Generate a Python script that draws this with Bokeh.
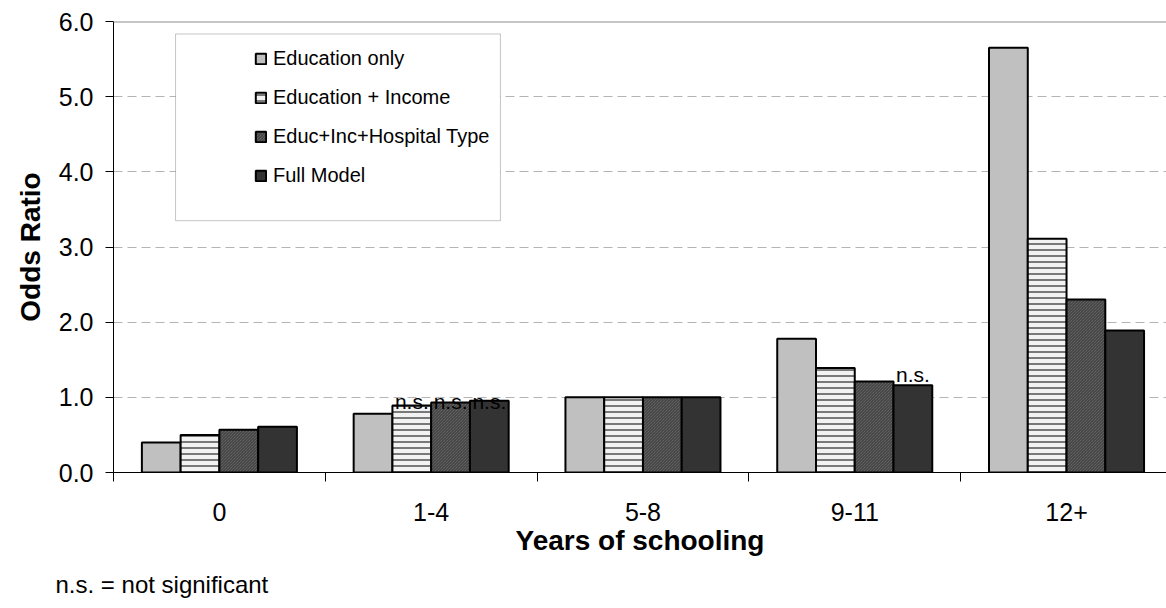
import numpy as np
from bokeh.plotting import figure
from bokeh.models import (Range1d, FixedTicker, PrintfTickFormatter, Legend, LegendItem,
                          Span, BoxAnnotation, Title, ColumnDataSource)
from bokeh.core.properties import value
from bokeh.embed import file_html
from bokeh.resources import INLINE

categories = ["0", "1-4", "5-8", "9-11", "12+"]
series = ["Education only", "Education + Income", "Educ+Inc+Hospital Type", "Full Model"]
edu_only = [0.40, 0.78, 1.00, 1.78, 5.65]
edu_income = [0.50, 0.89, 1.00, 1.39, 3.11]
edu_inc_hosp = [0.57, 0.93, 1.00, 1.21, 2.30]
full_model = [0.61, 0.955, 1.00, 1.16, 1.89]
values = [edu_only, edu_income, edu_inc_hosp, full_model]

# "n.s." annotations: (category, series index, label anchor value)
ns_cats = ["1-4", "1-4", "1-4", "9-11"]
ns_series = [1, 2, 3, 3]
ns_y = [0.945, 0.945, 0.945, 1.31]

y_ticks = [0, 1, 2, 3, 4, 5, 6]

FONT = "Liberation Sans"

p = figure(width=1166, height=608, output_backend="svg", toolbar_location=None,
           x_range=Range1d(0, 4.972), y_range=Range1d(0, 6),
           min_border_left=113, min_border_right=0, min_border_top=21, min_border_bottom=136)
p.outline_line_color = None
p.background_fill_color = "white"
p.border_fill_color = "white"

p.xgrid.grid_line_color = None
p.ygrid.ticker = FixedTicker(ticks=y_ticks[1:-1])
p.ygrid.grid_line_color = "#b4b4b4"
p.ygrid.grid_line_dash = "9 5"
p.ygrid.grid_line_width = 1

p.add_layout(Span(location=6, dimension="width", line_color="#8c8c8c", line_width=2))

bar_w = 0.183
offsets = [-0.2745, -0.0915, 0.0915, 0.2745]
styles = [
    dict(fill_color="#c0c0c0"),
    dict(fill_color="#f2f2f2", hatch_pattern="-", hatch_color="black", hatch_scale=6, hatch_weight=1),
    dict(fill_color="#747474", hatch_pattern="\\", hatch_color="#383838", hatch_scale=3, hatch_weight=1),
    dict(fill_color="#333333"),
]

centers = np.arange(len(categories)) + 0.5
renderers = []
for j, vals in enumerate(values):
    src = ColumnDataSource(dict(x=centers + offsets[j], top=vals))
    r = p.vbar(x="x", top="top", bottom=0, width=bar_w, source=src,
               line_color="black", line_width=2, **styles[j])
    renderers.append(r)

# n.s. labels
ns_x = [categories.index(c) + 0.5 + offsets[s] for c, s in zip(ns_cats, ns_series)]
p.text(x=ns_x, y=ns_y, text=["n.s."] * len(ns_x), text_align="center", text_baseline="alphabetic",
       text_font=value(FONT), text_font_size="21px", text_color="black")

# axes
p.xaxis.ticker = FixedTicker(ticks=list(centers), minor_ticks=list(range(len(categories) + 1)))
p.xaxis.major_label_overrides = {float(c): lab for c, lab in zip(centers, categories)}
p.xaxis.major_tick_line_color = None
p.xaxis.major_tick_out = 9
p.xaxis.major_tick_in = 0
p.xaxis.minor_tick_line_color = "black"
p.xaxis.minor_tick_out = 9
p.xaxis.minor_tick_in = 0
p.xaxis.axis_line_color = "black"
p.xaxis.major_label_standoff = 21
p.xaxis.major_label_text_font = FONT
p.xaxis.major_label_text_font_size = "25px"
p.xaxis.major_label_text_color = "black"
p.xaxis.axis_label = "Years of schooling"
p.xaxis.axis_label_text_font = FONT
p.xaxis.axis_label_text_font_style = "bold"
p.xaxis.axis_label_text_font_size = "28px"
p.xaxis.axis_label_text_color = "black"
p.xaxis.axis_label_standoff = 1

p.yaxis.ticker = FixedTicker(ticks=y_ticks)
p.yaxis.formatter = PrintfTickFormatter(format="%.1f")
p.yaxis.minor_tick_line_color = None
p.yaxis.major_tick_out = 8
p.yaxis.major_tick_in = 0
p.yaxis.major_tick_line_color = "black"
p.yaxis.axis_line_color = "black"
p.yaxis.major_label_standoff = 12
p.yaxis.major_label_text_font = FONT
p.yaxis.major_label_text_font_size = "25px"
p.yaxis.major_label_text_color = "black"
p.yaxis.axis_label = "Odds Ratio"
p.yaxis.axis_label_text_font = FONT
p.yaxis.axis_label_text_font_style = "bold"
p.yaxis.axis_label_text_font_size = "28px"
p.yaxis.axis_label_text_color = "black"
p.yaxis.axis_label_standoff = 10

# legend frame
p.add_layout(BoxAnnotation(left=0.293, right=1.827, bottom=3.35, top=5.834,
                           fill_color="white", fill_alpha=1.0,
                           line_color="#404040", line_width=1))

legend = Legend(items=[LegendItem(label=s, renderers=[r]) for s, r in zip(series, renderers)],
                location=(141, 285), orientation="vertical",
                glyph_width=13, glyph_height=13, label_height=20, spacing=16,
                label_standoff=6, padding=0, margin=0,
                border_line_color=None, background_fill_alpha=0,
                label_text_font=FONT, label_text_font_size="20px", label_text_color="black")
p.add_layout(legend, "center")

foot = Title(text="n.s. = not significant", align="left", offset=-58, standoff=21,
             text_font=FONT, text_font_size="24px", text_font_style="normal", text_color="black")
p.add_layout(foot, "below")

open("out.html", "w").write(file_html(p, INLINE))
